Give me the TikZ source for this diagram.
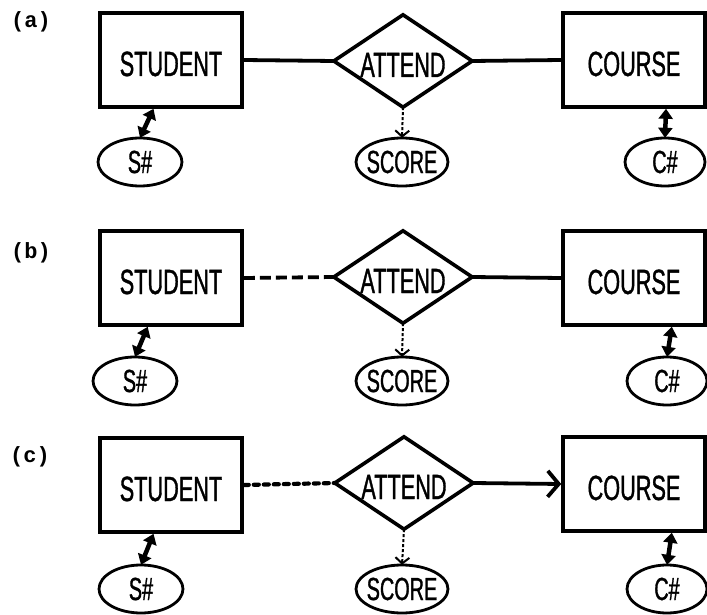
\documentclass[tikz,border=0pt]{standalone}
\usepackage{fontspec}
\usetikzlibrary{arrows.meta,calc}
\newfontfamily\letterfont[FakeStretch=0.62,FakeBold=1]{Liberation Sans}
\newfontfamily\tagfont{Liberation Mono}
\begin{document}
\begin{tikzpicture}[x=1pt,y=-1pt,
  entity/.style={draw, line width=3.6pt, minimum width=142pt, minimum height=94pt,
    inner sep=0pt, font=\letterfont\fontsize{35}{35}\selectfont,
    text height=32pt, text depth=0pt},
  relbox/.style={minimum width=138pt, minimum height=92pt, inner sep=0pt,
    font=\letterfont\fontsize{35}{35}\selectfont, text height=32pt, text depth=0pt},
  rhomb/.style={line width=3.6pt, line join=miter},
  attr/.style={minimum height=48pt, inner sep=0pt,
    font=\letterfont\fontsize{32}{32}\selectfont},
  ring/.style={line width=2.8pt},
  tag/.style={font=\tagfont\bfseries\fontsize{22}{22}\selectfont, inner sep=0pt},
  link/.style={line width=3.8pt},
  partlink/.style={line width=3.8pt, dash pattern=on 11pt off 5pt},
  weaklink/.style={line width=4.2pt, dash pattern=on 5pt off 5pt, line cap=round},
  keyarrow/.style={line width=4.5pt,
    {Triangle[length=10pt,width=14pt]}-{Triangle[length=10pt,width=14pt]}},
  valarrow/.style={line width=2pt, dash pattern=on 3pt off 2pt,
    -{Straight Barb[length=6pt,width=14pt,line width=2pt]}},
  onearrow/.style={line width=3.8pt, -{Straight Barb[length=11pt,width=26pt,line width=3.8pt]}},
]
\useasboundingbox (0,0) rectangle (707,615);

% ---------- (a) ----------
\node[tag] (la) at (31,22) {(a)};
\node[entity] (stuA) at (171,60) {STUDENT};
\node[relbox] (attA) at (403,61) {ATTEND};
\draw[rhomb] (attA.west) -- (attA.north) -- (attA.east) -- (attA.south) -- cycle;
\node[entity] (crsA) at (634,60) {COURSE};
\node[attr, minimum width=84pt] (sidA) at (140,162) {S\#};
\node[attr, minimum width=92pt] (scoA) at (402,162) {SCORE};
\node[attr, minimum width=80pt] (cidA) at (665,162) {C\#};
\draw[ring] (sidA.center) ellipse[x radius=42pt, y radius=24pt];
\draw[ring] (scoA.center) ellipse[x radius=46pt, y radius=24pt];
\draw[ring] (cidA.center) ellipse[x radius=40pt, y radius=24pt];
\draw[link] (stuA.east) -- (attA.west);
\draw[link] (attA.east) -- (crsA.west);
\draw[valarrow] (attA.south) -- (scoA.north);
\draw[keyarrow] ($(stuA.south west)!0.38!(stuA.south east)$) -- (sidA.north);
\draw[keyarrow] ($(crsA.south west)!0.72!(crsA.south east)$) -- (cidA.north);

% ---------- (b) ----------
\node[tag] (lb) at (31,253) {(b)};
\node[entity] (stuB) at (171,278) {STUDENT};
\node[relbox] (attB) at (403,277) {ATTEND};
\draw[rhomb] (attB.west) -- (attB.north) -- (attB.east) -- (attB.south) -- cycle;
\node[entity] (crsB) at (634,278) {COURSE};
\node[attr, minimum width=84pt] (sidB) at (135,381) {S\#};
\node[attr, minimum width=92pt] (scoB) at (402,381) {SCORE};
\node[attr, minimum width=80pt] (cidB) at (667,381) {C\#};
\draw[ring] (sidB.center) ellipse[x radius=42pt, y radius=24pt];
\draw[ring] (scoB.center) ellipse[x radius=46pt, y radius=24pt];
\draw[ring] (cidB.center) ellipse[x radius=40pt, y radius=24pt];
\draw[partlink] (stuB.east) -- (attB.west);
\draw[link] (attB.east) -- (crsB.west);
\draw[valarrow] (attB.south) -- (scoB.north);
\draw[keyarrow] ($(stuB.south west)!0.34!(stuB.south east)$) -- (sidB.north);
\draw[keyarrow] ($(crsB.south west)!0.76!(crsB.south east)$) -- (cidB.north);

% ---------- (c) ----------
\node[tag] (lc) at (30,457) {(c)};
\node[entity] (stuC) at (171,485) {STUDENT};
\node[relbox] (attC) at (404,483) {ATTEND};
\draw[rhomb] (attC.west) -- (attC.north) -- (attC.east) -- (attC.south) -- cycle;
\node[entity] (crsC) at (634,484) {COURSE};
\node[attr, minimum width=84pt] (sidC) at (141,589) {S\#};
\node[attr, minimum width=92pt] (scoC) at (402,589) {SCORE};
\node[attr, minimum width=80pt] (cidC) at (667,589) {C\#};
\draw[ring] (sidC.center) ellipse[x radius=42pt, y radius=24pt];
\draw[ring] (scoC.center) ellipse[x radius=46pt, y radius=24pt];
\draw[ring] (cidC.center) ellipse[x radius=40pt, y radius=24pt];
\draw[weaklink] (stuC.east) -- (attC.west);
\draw[onearrow] (attC.east) -- (crsC.west);
\draw[valarrow] (attC.south) -- (scoC.north);
\draw[keyarrow] ($(stuC.south west)!0.38!(stuC.south east)$) -- (sidC.north);
\draw[keyarrow] ($(crsC.south west)!0.76!(crsC.south east)$) -- (cidC.north);
\end{tikzpicture}
\end{document}
